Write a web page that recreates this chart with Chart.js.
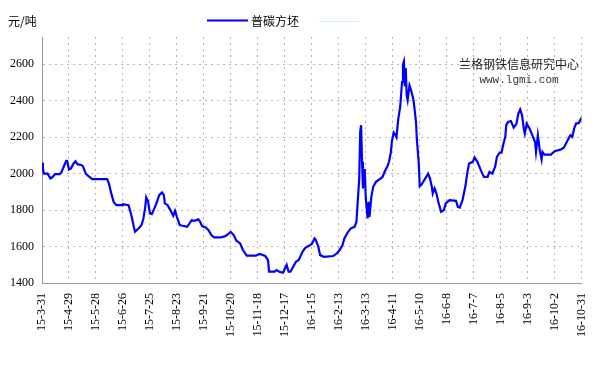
<!DOCTYPE html>
<html>
<head>
<meta charset="utf-8">
<script src="https://cdn.jsdelivr.net/npm/chart.js@4/dist/chart.umd.min.js"></script>
<style>
  html, body { margin: 0; padding: 0; background: #fff; }
  #wrap { width: 606px; height: 380px; position: relative; }
</style>
</head>
<body>
<div id="wrap"><canvas id="chart"></canvas></div>
<script>
// day offsets from 15-3-31 and the billet price
const days = [
  0, 1, 2, 6, 9, 11, 14, 19, 21, 24, 26, 27, 29, 31, 34, 36, 38, 42, 44, 47,
  50, 54, 70, 72, 74, 77, 80, 86, 87, 93, 96, 99, 100, 104, 107, 109, 111, 112, 114, 116,
  118, 120, 123, 126, 129, 131, 132, 135, 138, 141, 143, 145, 148, 151, 156, 161, 163, 168, 170, 172,
  176, 179, 182, 185, 192, 197, 200, 203, 206, 209, 213, 216, 220, 230, 234, 240, 243, 244, 250, 252,
  255, 259, 263, 265, 267, 269, 273, 276, 280, 283, 287, 290, 293, 294, 297, 299, 303, 313, 317, 320,
  323, 325, 329, 332, 336, 338, 339, 341, 342, 343, 344, 345, 346, 347, 348, 350, 351, 352, 354, 356,
  359, 363, 366, 369, 371, 373, 375, 376, 378, 380, 381, 383, 385, 387, 388, 389, 390, 391, 392, 393,
  395, 396, 399, 400, 402, 403, 405, 406, 408, 412, 415, 417, 419, 420, 422, 424, 426, 429, 432, 434,
  438, 445, 447, 449, 452, 455, 457, 459, 463, 465, 468, 472, 475, 479, 481, 484, 487, 489, 492, 494,
  496, 498, 499, 501, 504, 507, 510, 512, 514, 516, 518, 519, 521, 524, 526, 530, 531, 533, 535, 537,
  538, 540, 547, 551, 558, 561, 565, 568, 570, 572, 574, 577, 580
];
const prices = [
  2060, 2028, 2000, 2000, 1974, 1980, 1997, 1997, 2010, 2046, 2070, 2070, 2023, 2028, 2056, 2068, 2052, 2048, 2041, 2000,
  1986, 1970, 1970, 1946, 1900, 1845, 1827, 1827, 1832, 1827, 1773, 1700, 1681, 1700, 1718, 1754, 1818, 1870, 1848, 1782,
  1778, 1800, 1837, 1882, 1897, 1882, 1837, 1827, 1800, 1769, 1796, 1763, 1718, 1714, 1708, 1745, 1740, 1749, 1736, 1712,
  1705, 1690, 1663, 1650, 1650, 1657, 1668, 1680, 1663, 1632, 1617, 1581, 1550, 1550, 1559, 1548, 1526, 1462, 1462, 1471,
  1462, 1456, 1499, 1462, 1462, 1480, 1517, 1526, 1571, 1593, 1604, 1614, 1645, 1640, 1599, 1553, 1544, 1548, 1563, 1581,
  1608, 1645, 1681, 1700, 1708, 1736, 1818, 1974, 2229, 2266, 2065, 1919, 2019, 2019, 1864, 1754, 1845, 1763, 1873, 1928,
  1955, 1970, 1982, 2019, 2037, 2065, 2119, 2174, 2226, 2211, 2200, 2302, 2366, 2503, 2600, 2616, 2480, 2580, 2430, 2403,
  2485, 2470, 2412, 2375, 2284, 2183, 2056, 1931, 1940, 1974, 2000, 1974, 1928, 1891, 1919, 1891, 1845, 1791, 1800, 1837,
  1855, 1851, 1818, 1814, 1855, 1928, 2000, 2056, 2065, 2089, 2065, 2015, 1982, 1982, 2010, 2000, 2037, 2092, 2116, 2116,
  2166, 2202, 2266, 2284, 2289, 2253, 2275, 2330, 2352, 2320, 2242, 2220, 2275, 2248, 2224, 2174, 2119, 2211, 2129, 2078,
  2119, 2105, 2105, 2123, 2133, 2144, 2183, 2211, 2202, 2248, 2275, 2278, 2308
];
const dateLabels = [
  "15-3-31", "15-4-29", "15-5-28", "15-6-26", "15-7-25", "15-8-23", "15-9-21",
  "15-10-20", "15-11-18", "15-12-17", "16-1-15", "16-2-13", "16-3-13", "16-4-11",
  "16-5-10", "16-6-8", "16-7-7", "16-8-5", "16-9-3", "16-10-2", "16-10-31"
];
const yTicks = [1400, 1600, 1800, 2000, 2200, 2400, 2600];
const labelStep = 29;

const seriesName = "普碳方坯";
const unitText = "元/吨";

const points = days.map((d, i) => ({ x: d, y: prices[i] }));

// unit, legend and watermark
const decorations = {
  id: "decorations",
  afterDraw(chart) {
    const ctx = chart.ctx;
    ctx.save();
    ctx.fillStyle = "#000";
    ctx.font = "12px 'Noto Sans CJK SC'";
    ctx.textBaseline = "middle";
    ctx.textAlign = "left";
    ctx.fillText(unitText, 8, 21);

    ctx.strokeStyle = "#0000ff";
    ctx.lineWidth = 2;
    ctx.beginPath();
    ctx.moveTo(207, 20.5);
    ctx.lineTo(248, 20.5);
    ctx.stroke();
    ctx.fillText(seriesName, 251, 21);

    ctx.strokeStyle = "#cdf5f5";
    ctx.lineWidth = 1;
    ctx.beginPath();
    ctx.moveTo(319, 21.5);
    ctx.lineTo(360, 21.5);
    ctx.stroke();

    ctx.textAlign = "center";
    ctx.fillStyle = "#222";
    ctx.font = "12px 'Noto Sans CJK SC'";
    ctx.fillText("兰格钢铁信息研究中心", 519, 64);
    ctx.fillStyle = "#334";
    ctx.font = "11px 'Liberation Mono'";
    ctx.fillText("www.lgmi.com", 519, 80);
    ctx.restore();
  }
};

new Chart(document.getElementById("chart"), {
  type: "line",
  data: {
    datasets: [
      {
        label: seriesName,
        data: points,
        borderColor: "#0000ff",
        borderWidth: 2.2,
        pointRadius: 0,
        tension: 0,
        fill: false,
      },
    ],
  },
  options: {
    responsive: true,
    maintainAspectRatio: false,
    animation: false,
    layout: {
      padding: { left: 0, right: 15, top: 37, bottom: 0 },
    },
    scales: {
      x: {
        type: "linear",
        min: 0,
        max: labelStep * (dateLabels.length - 1),
        afterFit: (scale) => { scale.height = 97; },
        grid: { color: "#b4b4b4", drawTicks: false },
        border: { display: true, color: "#999", width: 1, dash: [2, 4] },
        ticks: {
          stepSize: labelStep,
          autoSkip: false,
          maxRotation: 90,
          minRotation: 90,
          padding: 10,
          color: "#000",
          font: { family: "'Liberation Serif'", size: 12 },
          callback: (value) => dateLabels[Math.round(value / labelStep)] || "",
        },
      },
      y: {
        min: 1400,
        max: 2750,
        afterFit: (scale) => { scale.width = 42; },
        afterBuildTicks: (scale) => {
          scale.ticks = yTicks.map((v) => ({ value: v }));
        },
        grid: { color: "#b4b4b4", drawTicks: false },
        border: { display: true, color: "#999", width: 1, dash: [2, 4] },
        ticks: {
          padding: 8,
          color: "#000",
          font: { family: "'Liberation Serif'", size: 12 },
          callback: (value) => String(value),
        },
      },
    },
    plugins: {
      legend: { display: false },
      tooltip: { enabled: false },
    },
  },
  plugins: [decorations],
});
</script>
</body>
</html>
